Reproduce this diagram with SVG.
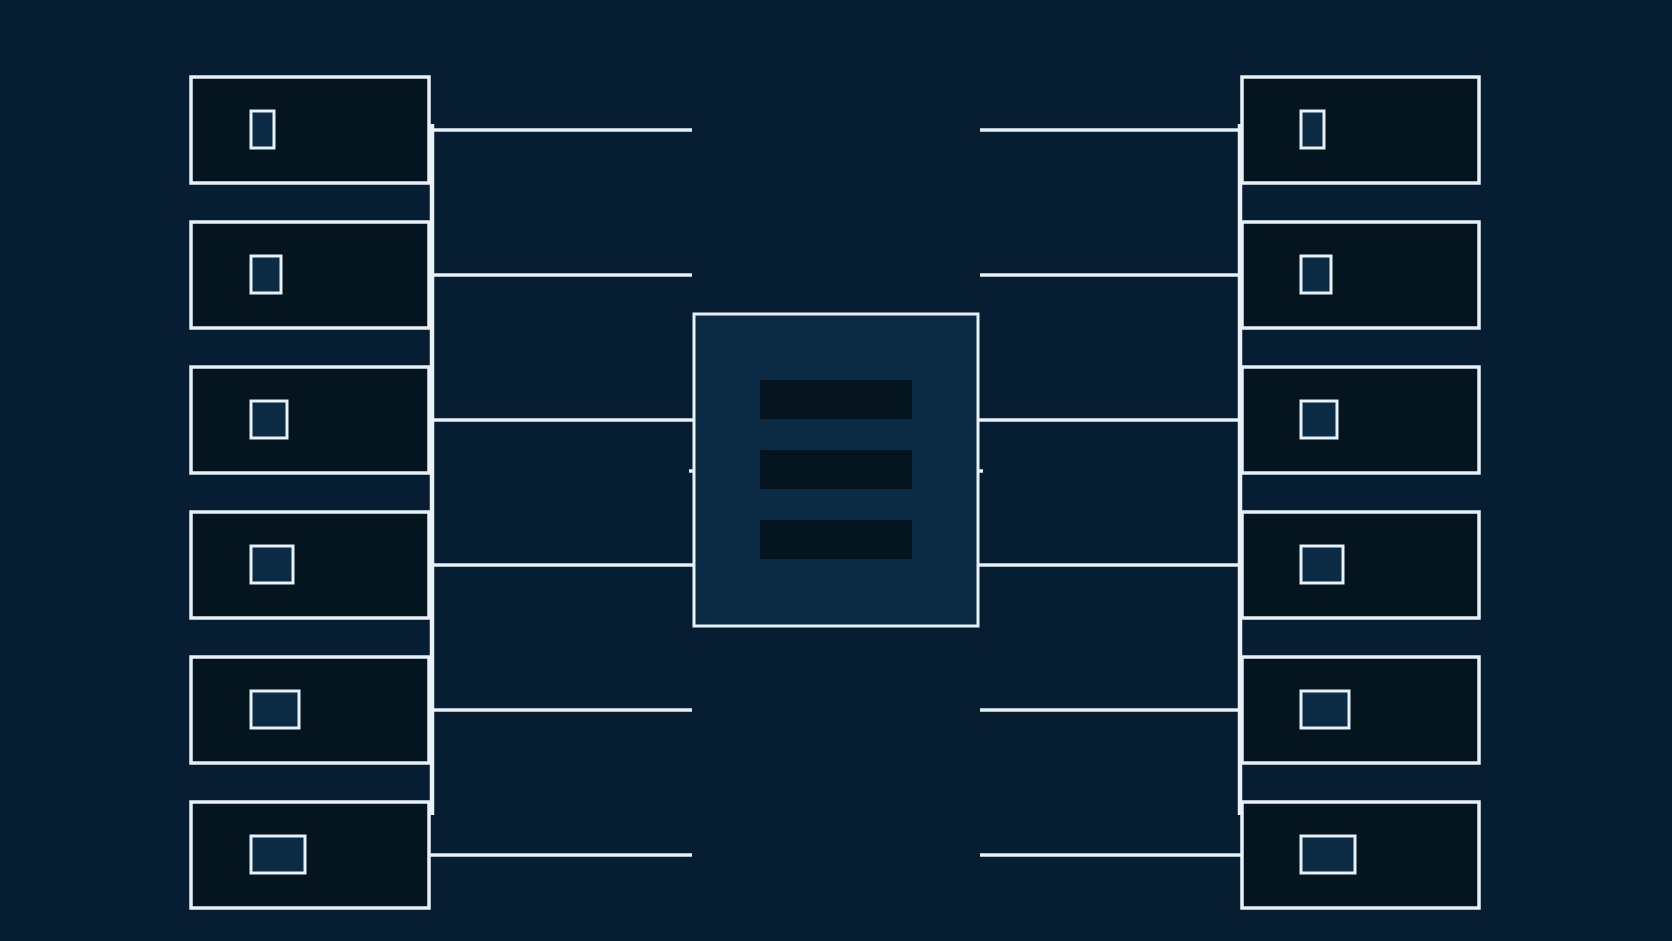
<svg xmlns="http://www.w3.org/2000/svg" width="1672" height="941" viewBox="0 0 1672 941">
<style>
.n{fill:#04151f;stroke:#e8f0f8;stroke-width:3.5}
.i{fill:#0b2a44;stroke:#e8f0f8;stroke-width:3}
.c line{stroke:#e8f0f8;stroke-width:3.5}
.c .b{stroke-width:4.5}
.bar{fill:#04151f}
</style>
<rect width="1672" height="941" fill="#071e32"/>
<g class="c" id="connectors">
<line class="b" x1="432" y1="124" x2="432" y2="815"/>
<line class="b" x1="1240" y1="124" x2="1240" y2="815"/>
<line x1="430" y1="130" x2="692" y2="130"/><line x1="980" y1="130" x2="1240" y2="130"/>
<line x1="430" y1="275" x2="692" y2="275"/><line x1="980" y1="275" x2="1240" y2="275"/>
<line x1="430" y1="420" x2="694" y2="420"/><line x1="978" y1="420" x2="1240" y2="420"/>
<line x1="430" y1="565" x2="694" y2="565"/><line x1="978" y1="565" x2="1240" y2="565"/>
<line x1="430" y1="710" x2="692" y2="710"/><line x1="980" y1="710" x2="1240" y2="710"/>
<line x1="429" y1="855" x2="692" y2="855"/><line x1="980" y1="855" x2="1242" y2="855"/>
<line x1="689" y1="471" x2="694" y2="471"/><line x1="978" y1="471" x2="983" y2="471"/>
</g>
<g id="center"><rect x="694" y="314" width="284" height="312" class="i" stroke-width="3.5"/>
<rect class="bar" x="760" y="380" width="152" height="39"/><rect class="bar" x="760" y="450" width="152" height="39"/><rect class="bar" x="760" y="520" width="152" height="39"/></g>
<g id="l1"><rect class="n" x="191" y="77" width="238" height="106"/><rect class="i" x="251" y="111" width="23" height="37"/></g>
<g id="l2"><rect class="n" x="191" y="222" width="238" height="106"/><rect class="i" x="251" y="256" width="30" height="37"/></g>
<g id="l3"><rect class="n" x="191" y="367" width="238" height="106"/><rect class="i" x="251" y="401" width="36" height="37"/></g>
<g id="l4"><rect class="n" x="191" y="512" width="238" height="106"/><rect class="i" x="251" y="546" width="42" height="37"/></g>
<g id="l5"><rect class="n" x="191" y="657" width="238" height="106"/><rect class="i" x="251" y="691" width="48" height="37"/></g>
<g id="l6"><rect class="n" x="191" y="802" width="238" height="106"/><rect class="i" x="251" y="836" width="54" height="37"/></g>
<g id="r1"><rect class="n" x="1242" y="77" width="237" height="106"/><rect class="i" x="1301" y="111" width="23" height="37"/></g>
<g id="r2"><rect class="n" x="1242" y="222" width="237" height="106"/><rect class="i" x="1301" y="256" width="30" height="37"/></g>
<g id="r3"><rect class="n" x="1242" y="367" width="237" height="106"/><rect class="i" x="1301" y="401" width="36" height="37"/></g>
<g id="r4"><rect class="n" x="1242" y="512" width="237" height="106"/><rect class="i" x="1301" y="546" width="42" height="37"/></g>
<g id="r5"><rect class="n" x="1242" y="657" width="237" height="106"/><rect class="i" x="1301" y="691" width="48" height="37"/></g>
<g id="r6"><rect class="n" x="1242" y="802" width="237" height="106"/><rect class="i" x="1301" y="836" width="54" height="37"/></g>
</svg>
